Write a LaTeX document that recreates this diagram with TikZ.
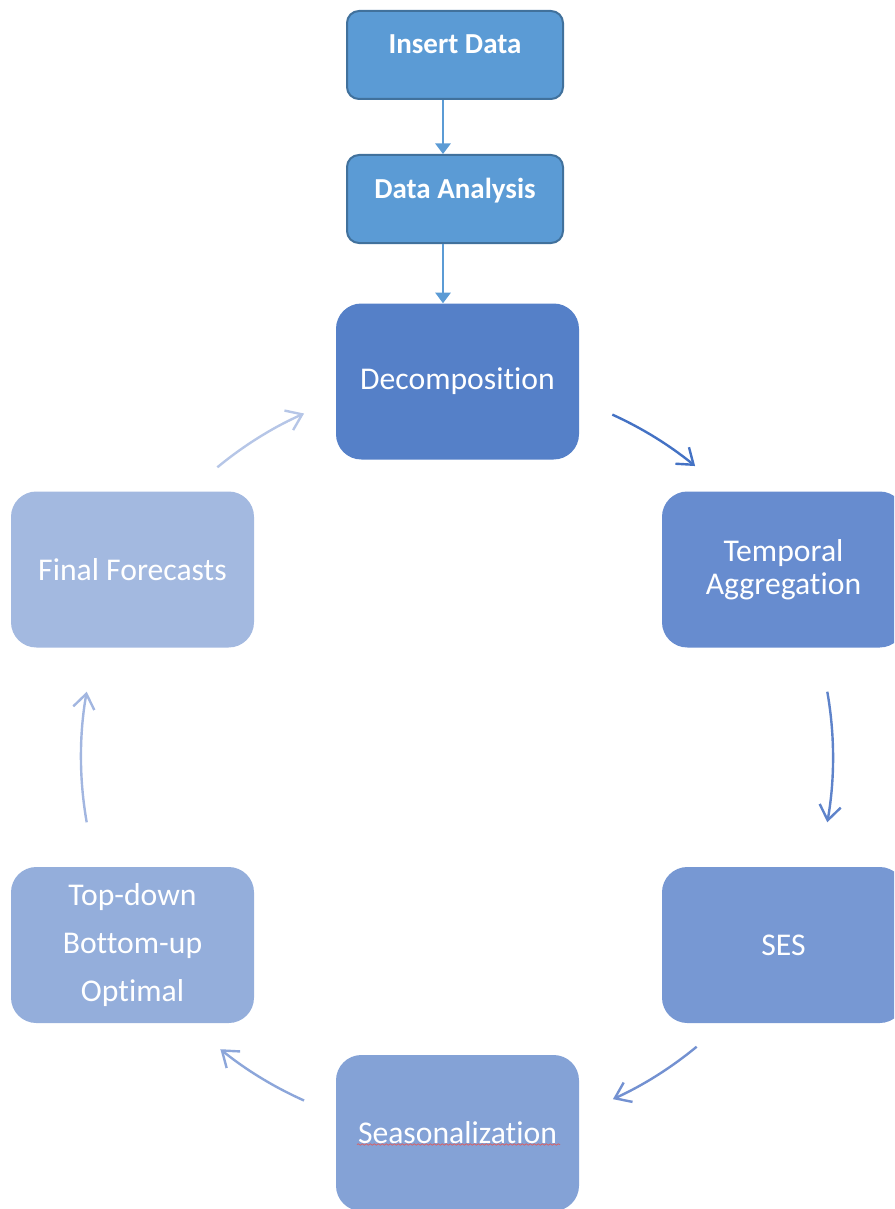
\documentclass[tikz,border=0pt]{standalone}
\usepackage{fontspec}
\setmainfont{Carlito}[Ligatures={NoCommon}]
\usetikzlibrary{arrows.meta,calc,decorations.pathmorphing}
\definecolor{topfill}{HTML}{5B9BD5}
\definecolor{topline}{HTML}{41719C}
\definecolor{cA}{HTML}{5580C8}
\definecolor{cB}{HTML}{678CCF}
\definecolor{cC}{HTML}{7798D3}
\definecolor{cD}{HTML}{84A2D6}
\definecolor{cE}{HTML}{94AEDB}
\definecolor{cF}{HTML}{A3B9E0}
\definecolor{aA}{HTML}{4472C4}
\definecolor{aB}{HTML}{5E83CA}
\definecolor{aC}{HTML}{7391D1}
\definecolor{aD}{HTML}{8CA6DA}
\definecolor{aE}{HTML}{A2B6E0}
\definecolor{aF}{HTML}{B6C6E7}
\definecolor{squig}{HTML}{E05A5A}
\begin{document}
\begin{tikzpicture}[x=0.75pt,y=0.75pt,
  topbox/.style={draw=topline, line width=1.5pt, fill=topfill, rounded corners=9pt,
    minimum width=162pt, minimum height=66pt, inner sep=0pt, text=white,
    font=\fontsize{21.75}{26}\selectfont\bfseries, text height=15pt, text depth=16.5pt},
  cycbox/.style={fill=#1, draw=none, rounded corners=19pt,
    minimum width=182.25pt, minimum height=117pt, inner sep=0pt, text=white,
    align=center, font=\fontsize{23.75}{25}\selectfont},
  toparrow/.style={draw=topfill, line width=1.6pt, -{Triangle[length=8pt,width=11.5pt]}},
  cyc/.style={draw=#1, line width=1.8pt, -{Straight Barb[length=11pt,width=16pt]}},
]
\useasboundingbox (0,0) rectangle (894,-1209);
\clip (0,0) rectangle (894,-1209);

% top boxes
\node[topbox] (insert) at (455,-55) {Insert Data};
\node[topbox] (data) at (455,-199) {Data Analysis};

% cycle boxes
\node[cycbox=cA] (decomp) at (457.5,-381.5) {Decomposition};
\node[cycbox=cB] (temporal) at (783.5,-569.5) {Temporal\\Aggregation};
\node[cycbox=cC] (ses) at (783.5,-945) {SES};
\node[cycbox=cD] (season) at (457.5,-1133) {Seasonalization};
\node[cycbox=cE, font=\fontsize{23.75}{36}\selectfont] (topdown) at (132.5,-945) {Top-down\\Bottom-up\\Optimal};
\node[cycbox=cF] (final) at (132.5,-569.5) {Final Forecasts};

% spell-check squiggle under Seasonalization
\coordinate (sqA) at (357,-1144.5);
\coordinate (sqB) at (560,-1144.5);
\draw[squig, line width=0.5pt, decorate, decoration={snake, amplitude=0.55pt, segment length=3pt}] (sqA) -- (sqB);

% top arrows
\draw[toparrow] ([xshift=-9pt]insert.south) -- ([xshift=-9pt]data.north);
\draw[toparrow] ([xshift=-9pt]data.south) -- ([xshift=-9pt]data.south |- decomp.north);

% cycle arrows (arcs on a common circle)
\coordinate (cc) at (457,-757);
\coordinate (a1) at ($(cc)+(65.6:282pt)$);
\coordinate (a2) at ($(cc)+(10:282pt)$);
\coordinate (a3) at ($(cc)+(-50.4:282pt)$);
\coordinate (a4) at ($(cc)+(-114:282pt)$);
\coordinate (a5) at ($(cc)+(-170:282pt)$);
\coordinate (a6) at ($(cc)+(129.6:282pt)$);
\draw[cyc=aA] (a1) arc[start angle=65.6, end angle=50.7, radius=282pt];
\draw[cyc=aB] (a2) arc[start angle=10, end angle=-10, radius=282pt];
\draw[cyc=aC] (a3) arc[start angle=-50.4, end angle=-65.5, radius=282pt];
\draw[cyc=aD] (a4) arc[start angle=-114, end angle=-129, radius=282pt];
\draw[cyc=aE] (a5) arc[start angle=-170, end angle=-190, radius=282pt];
\draw[cyc=aF] (a6) arc[start angle=129.6, end angle=114, radius=282pt];
\end{tikzpicture}
\end{document}
